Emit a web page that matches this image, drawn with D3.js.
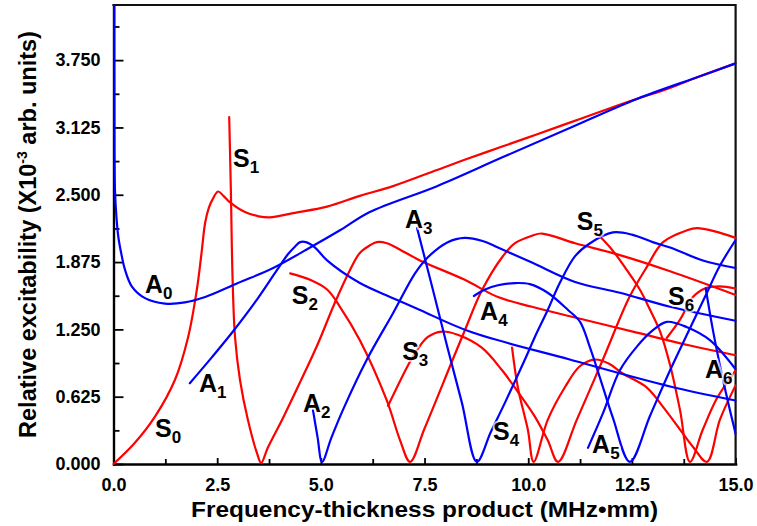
<!DOCTYPE html>
<html>
<head>
<meta charset="utf-8">
<script src="https://cdn.jsdelivr.net/npm/d3@7"></script>
<style>
  html, body { margin: 0; padding: 0; background: #fff; }
  svg { display: block; }
</style>
</head>
<body>
<svg id="chart" width="757" height="526"></svg>
<script>
// Relative excitability of Lamb modes vs frequency-thickness product.
// Each mode: [fd (MHz·mm), excitability (x10^-3 arb. units)]
const S0 = [[0,0],[0.5,0.19],[1.0,0.44],[1.48,0.78],[1.8,1.18],[2.01,1.62],[2.12,1.95],[2.21,2.24],[2.3,2.38],[2.38,2.45],[2.52,2.53],[2.65,2.49],[2.81,2.43],[3.17,2.34],[3.5,2.30],[3.77,2.29],[4.33,2.33],[5.15,2.39],[5.94,2.49],[6.74,2.58],[7.8,2.73],[8.5,2.83],[9.39,2.95],[10.2,3.06],[11.0,3.17],[11.8,3.28],[12.62,3.39],[13.4,3.49],[14.14,3.60],[15,3.72]];
const S1 = [[2.79,3.22],[2.83,2.54],[2.87,1.74],[2.93,1.18],[3.05,0.78],[3.24,0.41],[3.46,0.10],[3.56,0.01],[3.72,0.15],[4.09,0.43],[4.50,0.76],[4.91,1.10],[5.34,1.50],[5.70,1.80],[5.94,1.96],[6.18,2.03],[6.35,2.06],[6.59,2.05],[6.91,1.99],[7.39,1.89],[8.47,1.71],[9.27,1.55],[10.09,1.46],[11.13,1.36],[12.62,1.22],[13.9,1.10],[15,1.01]];
const S2 = [[4.26,1.77],[4.74,1.71],[5.15,1.62],[5.46,1.46],[5.94,1.15],[6.59,0.59],[6.91,0.22],[7.15,0.02],[7.5,0.33],[8.18,0.97],[8.47,1.24],[8.88,1.61],[9.37,1.92],[9.68,2.05],[10.09,2.12],[10.33,2.14],[11.13,2.05],[12.21,1.94],[13.42,1.79],[15,1.57]];
const S3 = [[6.62,0.54],[7.08,0.90],[7.27,1.03],[7.58,1.18],[7.92,1.23],[8.30,1.20],[8.88,1.08],[9.37,0.87],[9.75,0.67],[10.16,0.44],[10.47,0.22],[10.72,0.02],[11.17,0.41],[11.8,0.97],[12.44,1.55],[12.86,1.83],[13.25,2.06],[13.83,2.17],[14.07,2.19],[14.5,2.16],[15,2.10]];
const S4 = [[9.61,1.08],[9.75,0.71],[9.99,0.32],[10.13,0.02],[10.47,0.41],[10.88,0.71],[11.25,0.91],[11.61,0.97],[11.95,0.93],[12.28,0.84],[12.86,0.71],[13.25,0.53],[13.66,0.32],[13.97,0.16],[14.31,0.02],[14.62,0.41],[15,0.73]];
const S5 = [[11.66,2.14],[12.02,1.99],[12.38,1.80],[12.69,1.62],[12.94,1.43],[13.18,1.23],[13.42,0.92],[13.66,0.50],[13.9,0.02],[14.21,0.32],[14.55,0.61],[15,0.87]];
const S6 = [[13.34,1.17],[13.66,1.34],[13.97,1.55],[14.26,1.63],[14.62,1.65],[15,1.63]];

const A0 = [[0.02,4.4],[0.022,3.5],[0.036,2.54],[0.07,2.3],[0.116,2.11],[0.2,1.93],[0.28,1.80],[0.44,1.65],[0.76,1.54],[1.24,1.49],[1.72,1.50],[2.21,1.55],[3.0,1.68],[3.85,1.82],[4.74,2.01],[5.46,2.17],[6.18,2.34],[7.8,2.58],[9.39,2.85],[11.0,3.12],[12.62,3.39],[14.14,3.60],[15,3.72]];
const A1 = [[1.84,0.75],[2.37,0.99],[2.88,1.23],[3.41,1.50],[3.94,1.80],[4.21,1.95],[4.38,2.02],[4.50,2.06],[4.64,2.06],[4.86,2.01],[5.15,1.89],[5.94,1.68],[6.74,1.54],[7.39,1.43],[8.59,1.23],[11.0,0.97],[13.42,0.72],[15,0.59]];
const A2 = [[4.81,0.50],[4.92,0.25],[5.03,0.02],[5.25,0.24],[5.53,0.50],[6.11,0.97],[6.74,1.40],[7.27,1.77],[7.58,1.92],[8.06,2.06],[8.47,2.10],[8.9,2.07],[9.27,2.01],[10.09,1.87],[11.13,1.69],[12.21,1.59],[13.42,1.46],[15,1.33]];
const A3 = [[7.32,2.19],[7.68,1.65],[8.04,1.10],[8.40,0.57],[8.76,0.02],[9.1,0.30],[9.44,0.57],[9.92,0.97],[10.16,1.18],[10.47,1.43],[10.76,1.68],[11.13,1.93],[11.49,2.05],[12.04,2.15],[12.5,2.13],[13.0,2.06],[13.42,2.01],[14.21,1.89],[15,1.82]];
const A4 = [[8.69,1.56],[8.96,1.62],[9.27,1.66],[9.68,1.68],[10.04,1.67],[10.47,1.59],[10.96,1.43],[11.25,1.32],[11.49,1.08],[11.73,0.80],[12.04,0.43],[12.45,0.02],[12.94,0.45],[13.42,0.87],[13.9,1.26],[14.26,1.55],[14.62,1.84],[15,2.08]];
const A5 = [[11.44,0.15],[11.80,0.47],[12.21,0.87],[12.62,1.09],[13.0,1.24],[13.34,1.32],[13.83,1.27],[14.38,1.15],[15,0.88]];
const A6 = [[14.28,1.63],[14.45,1.25],[14.62,0.92],[14.82,0.57],[15,0.28]];

const symmetricModes = [S0, S1, S2, S3, S4, S5, S6];
const antisymmetricModes = [A0, A1, A2, A3, A4, A5, A6];

// Mode names with the point (fd, excitability) where each name sits
const modeNames = [
  {letter: "S", index: "0", fd: 1.0,  v: 0.25},
  {letter: "S", index: "1", fd: 2.88, v: 2.76},
  {letter: "A", index: "0", fd: 0.76, v: 1.59},
  {letter: "A", index: "1", fd: 2.06, v: 0.67},
  {letter: "S", index: "2", fd: 4.30, v: 1.49},
  {letter: "A", index: "2", fd: 4.57, v: 0.48},
  {letter: "S", index: "3", fd: 6.96, v: 0.97},
  {letter: "A", index: "3", fd: 7.03, v: 2.19},
  {letter: "A", index: "4", fd: 8.84, v: 1.34},
  {letter: "S", index: "4", fd: 9.15, v: 0.22},
  {letter: "S", index: "5", fd: 11.17, v: 2.17},
  {letter: "A", index: "5", fd: 11.54, v: 0.10},
  {letter: "S", index: "6", fd: 13.37, v: 1.48},
  {letter: "A", index: "6", fd: 14.26, v: 0.80}
];

const xTicks = [0, 2.5, 5, 7.5, 10, 12.5, 15];
const xMinorTicks = [1.25, 3.75, 6.25, 8.75, 11.25, 13.75];
const yTicks = [0, 0.625, 1.25, 1.875, 2.5, 3.125, 3.75];
const yMinorTicks = [0.3125, 0.9375, 1.5625, 2.1875, 2.8125, 3.4375, 4.0625];

const FONT = "'Liberation Sans', Arial, Helvetica, sans-serif";
const svg = d3.select("#chart");

const plotLeft = 113.5, plotRight = 735.6, plotTop = 5, plotBottom = 464;
const x = d3.scaleLinear().domain([0, 15]).range([plotLeft, plotRight]);
const y = d3.scaleLinear().domain([0, 4.262]).range([plotBottom, plotTop]);

svg.append("rect").attr("width", 757).attr("height", 526).attr("fill", "#fff");

svg.append("defs").append("clipPath").attr("id", "plotClip")
  .append("rect").attr("x", plotLeft - 1).attr("y", plotTop)
  .attr("width", plotRight - plotLeft + 2).attr("height", plotBottom - plotTop + 1);

// Axes with inward ticks
const xAxis = svg.append("g").attr("transform", `translate(0,${plotBottom})`)
  .call(d3.axisBottom(x).tickValues(xTicks).tickFormat(d3.format(".1f"))
    .tickSizeInner(-6).tickSizeOuter(0).tickPadding(14));
const xMinor = svg.append("g").attr("transform", `translate(0,${plotBottom})`)
  .call(d3.axisBottom(x).tickValues(xMinorTicks).tickFormat("")
    .tickSizeInner(-5).tickSizeOuter(0));
const yAxis = svg.append("g").attr("transform", `translate(${plotLeft},0)`)
  .call(d3.axisLeft(y).tickValues(yTicks).tickFormat(d3.format(".3f"))
    .tickSizeInner(-10).tickSizeOuter(0).tickPadding(13));
const yMinor = svg.append("g").attr("transform", `translate(${plotLeft},0)`)
  .call(d3.axisLeft(y).tickValues(yMinorTicks).tickFormat("")
    .tickSizeInner(-6).tickSizeOuter(0));

[xAxis, xMinor, yAxis, yMinor].forEach(g => {
  g.select(".domain").attr("stroke", "#000").attr("stroke-width", 2.2)
    .attr("stroke-linecap", "square");
  g.selectAll(".tick line").attr("stroke", "#000").attr("stroke-width", 1.8);
  g.selectAll(".tick text").attr("fill", "#000")
    .attr("font-family", FONT).attr("font-weight", "bold").attr("font-size", 18);
});

// Top and right edges of the frame
svg.append("path")
  .attr("d", `M${plotLeft},${plotTop}H${plotRight}V${plotBottom}`)
  .attr("fill", "none").attr("stroke", "#111").attr("stroke-width", 2.2)
  .attr("stroke-linecap", "square");

// Mode curves
const line = d3.line()
  .x(d => x(d[0]))
  .y(d => y(d[1]))
  .curve(d3.curveCatmullRom.alpha(0.5));

const curves = svg.append("g").attr("clip-path", "url(#plotClip)")
  .attr("fill", "none").attr("stroke-width", 2.2)
  .attr("stroke-linejoin", "round").attr("stroke-linecap", "round");

curves.selectAll("path.sym").data(symmetricModes).join("path")
  .attr("class", "sym").attr("stroke", "#ff0000").attr("d", line);
curves.selectAll("path.anti").data(antisymmetricModes).join("path")
  .attr("class", "anti").attr("stroke", "#0000ff").attr("d", line);

// Axis titles
svg.append("text")
  .attr("x", (plotLeft + plotRight) / 2).attr("y", 517)
  .attr("text-anchor", "middle")
  .attr("font-family", FONT).attr("font-weight", "bold").attr("font-size", 22)
  .attr("textLength", 467).attr("lengthAdjust", "spacingAndGlyphs")
  .text("Frequency-thickness product (MHz\u2022mm)");

const yTitle = svg.append("text")
  .attr("transform", `translate(36,${(plotTop + plotBottom) / 2}) rotate(-90)`)
  .attr("text-anchor", "middle")
  .attr("font-family", FONT).attr("font-weight", "bold").attr("font-size", 23.5);
yTitle.append("tspan").text("Relative excitability (X10");
yTitle.append("tspan").attr("font-size", 14).attr("dy", -9).text("-3");
yTitle.append("tspan").attr("dy", 9).text(" arb. units)");

// Mode names
const names = svg.append("g")
  .attr("font-family", FONT).attr("font-weight", "bold").attr("fill", "#000");
modeNames.forEach(m => {
  const t = names.append("text")
    .attr("x", x(m.fd)).attr("y", y(m.v))
    .attr("font-size", 25)
    .attr("stroke", "#fff").attr("stroke-width", 4).attr("stroke-opacity", 0.7)
    .attr("paint-order", "stroke").attr("stroke-linejoin", "round");
  t.append("tspan").text(m.letter);
  t.append("tspan").attr("font-size", 17).attr("dy", 6).text(m.index);
});
</script>
</body>
</html>
